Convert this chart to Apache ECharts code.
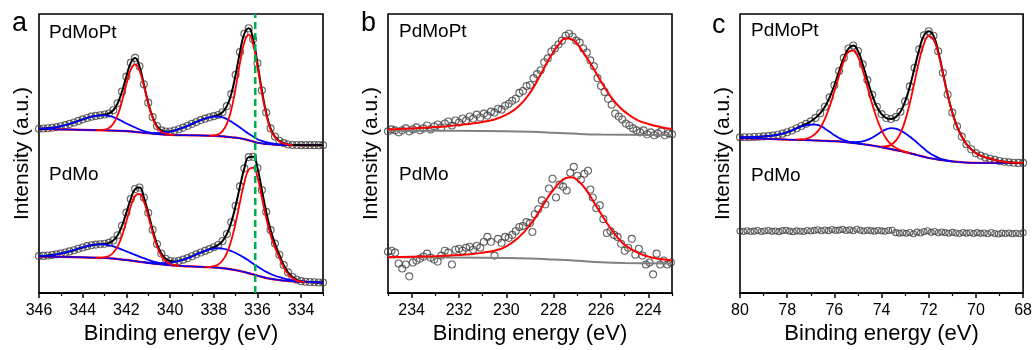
<!DOCTYPE html>
<html><head><meta charset="utf-8">
<script src="https://cdn.jsdelivr.net/npm/echarts@6/dist/echarts.min.js"></script>
<style>html,body{margin:0;padding:0;background:#fff}#c{width:1035px;height:350px}</style>
</head><body><div id="c"></div>
<script>
// ---------- Panel a: Pd 3d ----------
const aEnergy = [346,345.8,345.6,345.4,345.2,345,344.8,344.6,344.4,344.2,344,343.8,343.6,343.4,343.2,343,342.8,342.6,342.4,342.2,342,341.8,341.6,341.4,341.2,341,340.8,340.6,340.4,340.2,340,339.8,339.6,339.4,339.2,339,338.8,338.6,338.4,338.2,338,337.8,337.6,337.4,337.2,337,336.8,336.6,336.4,336.2,336,335.8,335.6,335.4,335.2,335,334.8,334.6,334.4,334.2,334,333.8,333.6,333.4,333.2,333];
const aTopCounts = [166.7,166.9,167.2,167.6,168.3,169.2,170.3,171.6,173.0,174.6,176.2,177.6,178.9,179.7,180.4,181.1,182.1,185.4,192.5,204.4,219.5,233.5,238.5,230.0,211.8,193.1,178.6,169.4,165.0,163.9,163.9,164.8,166.2,167.8,169.6,171.6,173.5,175.4,176.9,178.2,179.4,180.6,183.4,189.6,201.8,221.3,244.5,263.0,268.5,257.3,233.0,205.7,183.0,167.0,158.8,154.5,152.1,150.7,150.2,150.1,150,150,150,150,150,150];
const aBotCounts = [37.5,37.7,38.1,38.6,39.3,40.1,41.1,42.3,43.5,45.0,46.3,47.6,48.5,49.2,49.6,50.0,50.9,53.3,58.7,68.3,81.6,95.4,105.5,107.0,97.0,81.4,64.2,49.8,40.1,34.8,32.5,32.0,32.7,33.9,35.5,37.3,39.3,41.1,42.8,44.6,46.5,48.8,52.8,59.9,71.8,88.5,108.2,126.5,137.9,138.2,126.8,104.5,82.4,63.9,50.2,38.9,28.5,21.0,16.3,13.5,12.1,11.5,11.2,11.0,10.8,10.7];
const aTopBase = [[346,166.3],[345,166],[344,165.5],[343,165],[342,164.3],[341.6,163.5],[341.2,162.5],[340.8,161.7],[340.4,161],[340,160.5],[339,160],[338,159.5],[337.6,159],[337.2,158],[336.8,157],[336.4,155],[336,152.5],[335.6,151.2],[335.2,150.5],[334.8,150.2],[334,150],[333,150]];
const aTopRed1 = [[343.4,165.2],[343.2,165.3],[343,165.8],[342.8,167.3],[342.6,171.6],[342.4,180.4],[342.2,194.5],[342,211.8],[341.8,226.5],[341.6,232],[341.4,225.5],[341.2,210],[341,192],[340.8,177.5],[340.6,168.2],[340.4,163.5],[340.2,161.5],[340,160.7],[339.8,160.4]];
const aTopRed2 = [[338.2,159.6],[338,160],[337.8,161],[337.6,164.2],[337.4,171.8],[337.2,185.9],[337,207.8],[336.8,233.5],[336.6,254.4],[336.4,262],[336.2,252.4],[336,229.5],[335.8,203.2],[335.6,181.2],[335.4,165.8],[335.2,158],[335,154],[334.8,151.8],[334.6,150.6],[334.4,150]];
const aTopBlue1 = [[346,166.7],[345.8,166.9],[345.6,167.2],[345.4,167.6],[345.2,168.3],[345,169.2],[344.8,170.3],[344.6,171.6],[344.4,173],[344.2,174.6],[344,176.2],[343.8,177.6],[343.6,178.9],[343.4,179.7],[343.2,180.2],[343,180.3],[342.8,179.6],[342.6,178.5],[342.4,176.7],[342.2,174.4],[342,172],[341.8,170],[341.6,167.9],[341.4,165.9],[341.2,164.3],[341,163.1],[340.8,162.2],[340.6,161.5],[340.4,161]];
const aTopBlue2 = [[340.8,162.3],[340.6,162.3],[340.4,162.5],[340.2,163.1],[340,163.7],[339.8,164.8],[339.6,166.2],[339.4,167.8],[339.2,169.6],[339,171.6],[338.8,173.5],[338.6,175.4],[338.4,176.9],[338.2,178.2],[338,178.9],[337.8,178.9],[337.6,178.2],[337.4,176.4],[337.2,173.9],[337,171],[336.8,168],[336.6,164.6],[336.4,161.5],[336.2,158.9],[336,156],[335.8,154.3],[335.6,153],[335.4,152],[335.2,151.3],[335,150.8],[334.8,150.5],[334.6,150.2],[334.4,150]];
const aBotBase = [[346,37],[345,36.7],[344,36.3],[343,35.6],[342.6,35],[342.2,34],[341.8,33],[341.4,31.8],[341,30.6],[340.6,29.5],[340.2,28.7],[339.8,28],[339.4,27.4],[339,27],[338.6,26.6],[338.2,26.2],[337.8,25.8],[337.4,24.8],[337,23.3],[336.6,21.3],[336.2,19],[335.8,16.5],[335.4,14.5],[335,13.2],[334.6,12.3],[334.2,11.6],[333.6,11],[333,10.7]];
const aBotRed1 = [[343.4,35.9],[343.2,36],[343,36.4],[342.8,37.6],[342.6,40.9],[342.4,47.3],[342.2,58.2],[342,72.8],[341.8,87.9],[341.6,98.6],[341.4,100.5],[341.2,92.6],[341,77.9],[340.8,61.4],[340.6,47.4],[340.4,37.9],[340.2,32.5],[340,29.7],[339.8,28.4],[339.6,27.7]];
const aBotRed2 = [[338.4,26.4],[338.2,26.6],[338,27.3],[337.8,29.1],[337.6,33.1],[337.4,40.6],[337.2,53.3],[337,71.1],[336.8,92.2],[336.6,112.1],[336.4,125.2],[336.2,127.3],[336,117.5],[335.8,96.8],[335.6,76.2],[335.4,59],[335.2,46.4],[335,36],[334.8,26.3],[334.6,19.4],[334.4,15.2],[334.2,12.7],[334,11.6],[333.8,11.2]];
const aBotBlue1 = [[346,37.5],[345.8,37.7],[345.6,38.1],[345.4,38.6],[345.2,39.3],[345,40.1],[344.8,41.1],[344.6,42.3],[344.4,43.5],[344.2,45],[344,46.3],[343.8,47.6],[343.6,48.5],[343.4,49.2],[343.2,49.4],[343,49.2],[342.8,48.6],[342.6,47.4],[342.4,45.9],[342.2,44.1],[342,42.3],[341.8,40.5],[341.6,38.7],[341.4,37],[341.2,35.4],[341,33.8],[340.8,32.3],[340.6,31.1],[340.4,30.1],[340.2,29.2],[340,28.5],[339.8,28]];
const aBotBlue2 = [[341.2,31.4],[341,30.9],[340.8,30.5],[340.6,30.3],[340.4,30.3],[340.2,30.5],[340,30.9],[339.8,31.6],[339.6,32.7],[339.4,33.9],[339.2,35.5],[339,37.3],[338.8,39.3],[338.6,41.1],[338.4,42.8],[338.2,44.2],[338,45.2],[337.8,45.5],[337.6,45.1],[337.4,44.1],[337.2,42.6],[337,40.7],[336.8,38.3],[336.6,35.7],[336.4,32.9],[336.2,29.9],[336,27],[335.8,24.2],[335.6,21.6],[335.4,19.4],[335.2,17.6],[335,16.1],[334.8,14.9],[334.6,13.9],[334.4,13],[334.2,12.4],[334,11.9],[333.8,11.5],[333.6,11.2],[333.4,11],[333.2,10.8],[333,10.7]];
const aRefEnergy = 336.1;
const aMajorTicks = [334,336,338,340,342,344,346];
const aMinorTicks = [333,335,337,339,341,343,345];

// ---------- Panel b: Mo 3d ----------
const bTopData = [[235,164],[234.85,166],[234.7,165],[234.55,163],[234.4,165],[234.25,167],[234.1,164],[233.95,166],[233.8,168],[233.65,165],[233.5,167],[233.35,170],[233.2,166],[233.05,169],[232.9,171],[232.75,168],[232.6,172],[232.45,174],[232.3,170],[232.15,175],[232,173],[231.85,177],[231.7,175],[231.55,179],[231.4,177],[231.25,181],[231.1,178],[230.95,182],[230.8,180],[230.65,184],[230.5,183],[230.35,187],[230.2,186],[230.05,190],[229.9,192],[229.75,195],[229.6,197],[229.45,203],[229.3,205],[229.15,210],[229,211],[228.85,218],[228.7,222],[228.55,226],[228.4,234],[228.25,238],[228.1,245],[227.95,248],[227.8,252],[227.65,256],[227.5,261],[227.35,263],[227.2,260],[227.05,256],[226.9,254],[226.75,248],[226.6,244],[226.45,236],[226.3,230],[226.15,218],[226,210],[225.85,204],[225.7,197],[225.55,191],[225.4,182],[225.25,179],[225.1,176],[224.95,172],[224.8,170],[224.65,167],[224.5,165],[224.35,163],[224.2,165],[224.05,161],[223.9,163],[223.75,160],[223.6,162],[223.45,164],[223.3,160],[223.15,162],[223,161]];
const bBotData = [[235,42],[234.85,43],[234.7,41],[234.55,30],[234.4,25],[234.25,29],[234.1,17],[233.95,31],[233.8,33],[233.65,35],[233.5,37],[233.35,40],[233.2,36],[233.05,34],[232.9,32],[232.75,38],[232.6,43],[232.45,41],[232.3,29],[232.15,44],[232,45],[231.85,43],[231.7,46],[231.55,47],[231.4,44],[231.25,48],[231.1,46],[230.95,52],[230.8,57],[230.65,52],[230.5,38],[230.35,55],[230.2,51],[230.05,57],[229.9,56],[229.75,59],[229.6,63],[229.45,67],[229.3,68],[229.15,72],[229,71],[228.9,62],[228.8,80],[228.65,85],[228.5,94],[228.35,90],[228.2,106],[228.05,116],[227.9,97],[227.75,110],[227.6,108],[227.45,104],[227.3,122],[227.15,128],[227,119],[226.85,115],[226.7,121],[226.55,124],[226.45,105],[226.35,97],[226.2,86],[226.05,89],[225.9,75],[225.75,61],[225.6,63],[225.45,59],[225.3,57],[225.15,50],[225,43],[224.85,46],[224.7,55],[224.55,39],[224.4,45],[224.25,38],[224.1,29],[223.95,31],[223.8,19],[223.65,40],[223.5,29],[223.35,33],[223.2,29],[223.05,31]];
const bTopFit = [[235,166],[234.5,166.5],[234,167],[233.5,167.7],[233,168.4],[232.5,169.3],[232,170.5],[231.5,171.8],[231,173.5],[230.5,176],[230,181],[229.5,189],[229,203],[228.5,224],[228.25,235],[228,245],[227.75,253],[227.5,258.5],[227.25,257.5],[227,252.5],[226.75,244],[226.5,235],[226.25,225],[226,214.5],[225.75,205],[225.5,196.5],[225.25,189.5],[225,184],[224.5,176],[224,171.5],[223.5,168.5],[223,166.3]];
const bTopBase = [[235,164.7],[231,164.3],[229,163.5],[228,162.6],[227,161.5],[226,160.8],[224,160.4],[223,160.3]];
const bBotFit = [[235,36.3],[234,36.8],[233,37.4],[232.5,37.9],[232,38.6],[231.5,39.5],[231,41],[230.5,43],[230,47.5],[229.5,56],[229,69],[228.5,87],[228.25,97],[228,105],[227.75,112],[227.5,116.5],[227.25,117.5],[227,114.5],[226.75,108.5],[226.5,100],[226.25,90],[226,80.5],[225.75,71],[225.5,62.5],[225.25,55],[225,49],[224.5,41.5],[224,37],[223.5,34.5],[223,33]];
const bBotBase = [[235,36.3],[231,35.8],[229,35],[228,34],[227,32.8],[226,31.3],[225,30.5],[223,30]];
const bMajorTicks = [224,226,228,230,232,234];
const bMinorTicks = [223,225,227,229,231,233,235];

// ---------- Panel c: Pt 4f ----------
const cEnergy = [80,79.8,79.6,79.4,79.2,79,78.8,78.6,78.4,78.2,78,77.8,77.6,77.4,77.2,77,76.8,76.6,76.4,76.2,76,75.8,75.6,75.4,75.2,75,74.8,74.6,74.4,74.2,74,73.8,73.6,73.4,73.2,73,72.8,72.6,72.4,72.2,72,71.8,71.6,71.4,71.2,71,70.8,70.6,70.4,70.2,70,69.8,69.6,69.4,69.2,69,68.8,68.6,68.4,68.2,68];
const cTopCounts = [158.0,158.0,158.1,158.3,158.5,158.9,159.2,159.7,160.6,161.7,163.1,164.9,167.2,169.5,171.6,174.1,177.7,182.4,189.0,198.5,210.7,225.2,238.5,248.0,251.0,245.5,232.0,216.0,201.0,189.0,181.5,177.5,176.5,178.4,183.9,194.4,209.6,228.5,247.1,261.3,265.5,261.0,245.2,223.5,201.3,183.1,169.1,158.7,151.0,145.8,141.9,139.4,137.6,136.3,135.1,133.9,133.2,132.6,132.2,132.0,132.0];
const cTopBase = [[80,157],[79,156.5],[78,155.7],[77,155],[76.5,154.5],[76,154],[75.5,153],[75,151.7],[74.5,150],[74,148],[73.5,145.5],[73,143],[72.5,140],[72,137],[71.5,135],[71,133.5],[70.5,132.5],[70,132],[69,132],[68,132]];
const cTopRed1 = [[77.6,155.6],[77.4,155.8],[77.2,156.5],[77,158.3],[76.8,161.7],[76.6,167.5],[76.4,176.7],[76.2,189.2],[76,204.6],[75.8,220.5],[75.6,235],[75.4,244.5],[75.2,246],[75,239.5],[74.8,226],[74.6,209],[74.4,192.1],[74.2,177],[74,165.2],[73.8,156.6],[73.6,150.9],[73.4,147.3],[73.2,145],[73,143.4],[72.8,141.8]];
const cTopRed2 = [[74,148.7],[73.8,148.9],[73.6,150.3],[73.4,154.3],[73.2,162.1],[73,174.9],[72.8,192.8],[72.6,214.3],[72.4,236],[72.2,253],[72,260.6],[71.8,257.1],[71.6,243.3],[71.4,222.7],[71.2,201.1],[71,183.1],[70.8,169.1],[70.6,158.7],[70.4,151],[70.2,145.8],[70,141.9],[69.8,139.4],[69.6,137.6],[69.4,136.3],[69.2,135.1],[69,133.9],[68.8,133.2],[68.6,132.6],[68.4,132.2],[68.2,132],[68,132]];
const cTopBlue1 = [[80,158],[79.8,158],[79.6,158.1],[79.4,158.3],[79.2,158.5],[79,158.9],[78.8,159.2],[78.6,159.7],[78.4,160.6],[78.2,161.7],[78,163.1],[77.8,164.9],[77.6,166.9],[77.4,168.9],[77.2,170.1],[77,170.8],[76.8,170.8],[76.6,169.5],[76.4,166.7],[76.2,163.5],[76,160.1],[75.8,157.3],[75.6,155.1],[75.4,153.7],[75.2,152.7],[75,151.9],[74.8,151]];
const cTopBlue2 = [[75.4,153.1],[75.2,153],[75,153.2],[74.8,153.9],[74.6,155.3],[74.4,157.6],[74.2,160.5],[74,163.6],[73.8,166],[73.6,167.3],[73.4,166.8],[73.2,164.8],[73,162.1],[72.8,158.6],[72.6,154.8],[72.4,150.5],[72.2,146.5],[72,142.5],[71.8,139.7],[71.6,137.3],[71.4,135.5],[71.2,134.3],[71,133.5]];
const cBotData = [[80,63.0],[79.85,62.5],[79.7,63.2],[79.55,62.4],[79.4,62.8],[79.25,63.4],[79.1,62.5],[78.95,62.9],[78.8,63.5],[78.65,62.6],[78.5,63.0],[78.35,62.3],[78.2,63.3],[78.05,63.8],[77.9,62.8],[77.75,62.2],[77.6,63.1],[77.45,62.7],[77.3,62.5],[77.15,63.4],[77,62.9],[76.85,63.6],[76.7,64.3],[76.55,63.2],[76.4,64.0],[76.25,63.3],[76.1,64.5],[75.95,63.6],[75.8,63.9],[75.65,64.6],[75.5,63.5],[75.35,64.1],[75.2,63.2],[75.05,64.7],[74.9,63.8],[74.75,63.0],[74.6,63.7],[74.45,63.3],[74.3,62.8],[74.15,63.5],[74,63.1],[73.85,62.7],[73.7,63.4],[73.55,63.8],[73.4,61.3],[73.25,60.8],[73.1,61.2],[72.95,60.6],[72.8,61.4],[72.65,60.2],[72.5,61.8],[72.35,61.0],[72.2,62.3],[72.05,63.2],[71.9,61.6],[71.75,62.4],[71.6,61.2],[71.45,62.0],[71.3,61.3],[71.15,60.7],[71,61.6],[70.85,61.0],[70.7,60.5],[70.55,61.5],[70.4,60.8],[70.25,61.2],[70.1,60.4],[69.95,61.3],[69.8,60.6],[69.65,61.0],[69.5,60.2],[69.35,61.4],[69.2,60.5],[69.05,59.9],[68.9,60.8],[68.75,60.4],[68.6,61.0],[68.45,60.3],[68.3,60.7],[68.15,60.2],[68,61.3]];
const cMajorTicks = [68,70,72,74,76,78,80];
const cMinorTicks = [69,71,73,75,77,79];

const xLabel = 'Binding energy (eV)';
const yLabel = 'Intensity (a.u.)';
const sampleNames = ['PdMoPt', 'PdMo'];
const panelLetters = ['a', 'b', 'c'];

// ---------- chart ----------
const FONT = "'Liberation Sans', Arial, Helvetica, sans-serif";
const zip = (xs, ys) => xs.map((x, i) => [x, ys[i]]);
const panels = [
  {left: 39, min: 333, max: 346, major: aMajorTicks, minor: aMinorTicks},
  {left: 388, min: 223, max: 235, major: bMajorTicks, minor: bMinorTicks},
  {left: 740, min: 68, max: 80, major: cMajorTicks, minor: cMinorTicks}
];
const grids = [], xAxes = [], yAxes = [];
panels.forEach((p, i) => {
  grids.push({left: p.left, top: 14, width: 284, height: 283, show: true, borderColor: '#000', borderWidth: 1.6, backgroundColor: 'transparent'});
  xAxes.push({gridIndex: i, type: 'value', min: p.min, max: p.max, inverse: true, position: 'bottom',
    axisLine: {show: true, onZero: false, lineStyle: {color: '#000', width: 1.6}},
    axisTick: {show: true, inside: false, length: 5, customValues: p.major, lineStyle: {color: '#000', width: 1.5}},
    axisLabel: {show: true, customValues: p.major, margin: 9, color: '#000', fontSize: 16, fontFamily: FONT},
    splitLine: {show: false},
    name: xLabel, nameLocation: 'middle', nameGap: 21,
    nameTextStyle: {fontSize: 22, color: '#000', fontFamily: FONT}});
  xAxes.push({gridIndex: i, type: 'value', min: p.min, max: p.max, inverse: true, position: 'bottom',
    axisLine: {show: false, onZero: false},
    axisTick: {show: true, inside: false, length: 3, customValues: p.minor, lineStyle: {color: '#000', width: 1.2}},
    axisLabel: {show: false}, splitLine: {show: false}});
  yAxes.push({gridIndex: i, type: 'value', min: 0, max: 283,
    axisLine: {show: false}, axisTick: {show: false}, axisLabel: {show: false}, splitLine: {show: false},
    name: yLabel, nameLocation: 'middle', nameGap: 6, nameRotate: 90,
    nameTextStyle: {fontSize: 21, color: '#000', fontFamily: FONT}});
});

function dots(data, gi, size) {
  return {type: 'scatter', xAxisIndex: gi * 2, yAxisIndex: gi, data: data, symbol: 'circle', symbolSize: size,
    clip: false, silent: true, z: 2,
    itemStyle: {color: 'rgba(255,255,255,0)', borderColor: '#404040', borderWidth: 1.1}};
}
function curve(data, gi, color, width, z, smooth, dash) {
  return {type: 'line', xAxisIndex: gi * 2, yAxisIndex: gi, data: data, showSymbol: false, symbol: 'none',
    smooth: smooth, silent: true, z: z, clip: true,
    lineStyle: {color: color, width: width, type: dash || 'solid'}};
}
const RED = '#ff0000', BLUE = '#0000ff', BLACK = '#000000', GRAY = '#808080';
const series = [
  // panel a
  dots(zip(aEnergy, aTopCounts), 0, 7), dots(zip(aEnergy, aBotCounts), 0, 7),
  curve(aTopBase, 0, RED, 2.2, 3, 0.4), curve(aBotBase, 0, RED, 2.2, 3, 0.4),
  curve(aTopBase, 0, BLUE, 1.5, 4, 0.4), curve(aBotBase, 0, BLUE, 1.5, 4, 0.4),
  curve(zip(aEnergy, aTopCounts), 0, BLACK, 2, 5, true), curve(zip(aEnergy, aBotCounts), 0, BLACK, 2, 5, true),
  curve(aTopBlue1, 0, BLUE, 1.8, 6, true), curve(aTopBlue2, 0, BLUE, 1.8, 6, true),
  curve(aBotBlue1, 0, BLUE, 1.8, 6, true), curve(aBotBlue2, 0, BLUE, 1.8, 6, true),
  curve(aTopRed1, 0, RED, 1.8, 7, true), curve(aTopRed2, 0, RED, 1.8, 7, true),
  curve(aBotRed1, 0, RED, 1.8, 7, true), curve(aBotRed2, 0, RED, 1.8, 7, true),
  curve([[aRefEnergy, 0], [aRefEnergy, 283]], 0, '#00b050', 2.5, 8, false, [7, 4]),
  // panel b
  dots(bTopData, 1, 7), dots(bBotData, 1, 7),
  curve(bTopBase, 1, GRAY, 2, 3, 0.4), curve(bBotBase, 1, GRAY, 2, 3, 0.4),
  curve(bTopFit, 1, RED, 2, 5, true), curve(bBotFit, 1, RED, 2, 5, true),
  // panel c
  dots(zip(cEnergy, cTopCounts), 2, 7), dots(cBotData, 2, 6),
  curve(cTopBase, 2, RED, 2.2, 3, 0.4), curve(cTopBase, 2, BLUE, 1.5, 4, 0.4),
  curve(zip(cEnergy, cTopCounts), 2, BLACK, 2, 5, true),
  curve(cTopBlue1, 2, BLUE, 1.8, 6, true), curve(cTopBlue2, 2, BLUE, 1.8, 6, true),
  curve(cTopRed1, 2, RED, 1.8, 7, true), curve(cTopRed2, 2, RED, 1.8, 7, true)
];

const txt = (text, x, y, size) => ({type: 'text', silent: true, z: 100,
  style: {text: text, x: x, y: y, fill: '#000', font: size + 'px ' + FONT, textAlign: 'left', textVerticalAlign: 'middle'}});
const graphics = [
  txt(panelLetters[0], 12, 24, 27), txt(panelLetters[1], 361, 24, 27), txt(panelLetters[2], 712, 26, 27),
  txt(sampleNames[0], 49, 32.7, 19), txt(sampleNames[1], 49, 174.5, 19),
  txt(sampleNames[0], 399, 31.7, 19), txt(sampleNames[1], 399, 175, 19),
  txt(sampleNames[0], 751, 30.7, 19), txt(sampleNames[1], 751, 176, 19)
];

const chart = echarts.init(document.getElementById('c'), null, {renderer: 'canvas'});
chart.setOption({
  animation: false,
  backgroundColor: '#fff',
  grid: grids, xAxis: xAxes, yAxis: yAxes,
  series: series,
  graphic: graphics
});
</script></body></html>
